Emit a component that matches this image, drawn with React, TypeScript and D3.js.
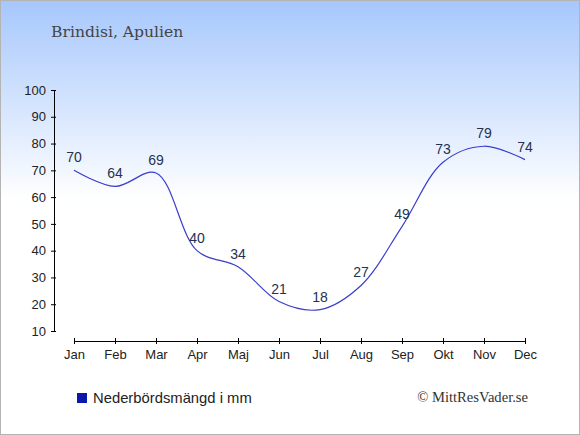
import { useEffect, useRef } from "react";
import * as d3 from "d3";

const months = ["Jan", "Feb", "Mar", "Apr", "Maj", "Jun", "Jul", "Aug", "Sep", "Okt", "Nov", "Dec"];
const rainfall = [70, 64, 69, 40, 34, 21, 18, 27, 49, 73, 79, 74];
const yTicks = [10, 20, 30, 40, 50, 60, 70, 80, 90, 100];

const W = 580;
const H = 435;

export default function App() {
  const svgRef = useRef<SVGSVGElement>(null);

  useEffect(() => {
    if (!svgRef.current) return;
    const svg = d3.select(svgRef.current);
    svg.selectAll("*").remove();

    // Background gradient
    const defs = svg.append("defs");
    const grad = defs
      .append("linearGradient")
      .attr("id", "bg")
      .attr("x1", 0)
      .attr("y1", 0)
      .attr("x2", 0)
      .attr("y2", 1);
    grad.append("stop").attr("offset", "0%").attr("stop-color", "#a6c7fc");
    grad.append("stop").attr("offset", "46%").attr("stop-color", "#ffffff");
    grad.append("stop").attr("offset", "100%").attr("stop-color", "#ffffff");

    svg
      .append("rect")
      .attr("x", 0.5)
      .attr("y", 0.5)
      .attr("width", W - 1)
      .attr("height", H - 1)
      .attr("fill", "url(#bg)")
      .attr("stroke", "#b4b4b4")
      .attr("stroke-width", 1);

    const x = d3.scalePoint<string>().domain(months).range([74, 525]);
    const y = d3.scaleLinear().domain([10, 100]).range([331, 90]);

    // Y axis
    const yAxis = svg
      .append("g")
      .attr("transform", "translate(54,0)")
      .call(d3.axisLeft(y).tickValues(yTicks).tickSize(4).tickSizeOuter(0).tickPadding(4));
    yAxis.select(".domain").attr("stroke", "#000");
    yAxis
      .selectAll(".tick text")
      .attr("font-family", "Arial, 'Liberation Sans', sans-serif")
      .attr("font-size", "13px")
      .attr("fill", "#222");
    yAxis.selectAll(".tick line").attr("x1", 2).attr("x2", -3);

    // X axis
    const xAxis = svg
      .append("g")
      .attr("transform", "translate(0,341)")
      .call(d3.axisBottom(x).tickSize(4).tickSizeOuter(0).tickPadding(5));
    xAxis.select(".domain").attr("stroke", "#000");
    xAxis.selectAll(".tick line").attr("y1", -3).attr("y2", 3);
    xAxis
      .selectAll(".tick text")
      .attr("font-family", "Arial, 'Liberation Sans', sans-serif")
      .attr("font-size", "13px")
      .attr("fill", "#222");

    // Line
    const line = d3
      .line<number>()
      .x((_, i) => x(months[i]) as number)
      .y((d) => y(d))
      .curve(d3.curveCatmullRom.alpha(0.5));

    svg
      .append("path")
      .datum(rainfall)
      .attr("d", line)
      .attr("fill", "none")
      .attr("stroke", "#3a3ecb")
      .attr("stroke-width", 1.2);

    // Value labels
    svg
      .selectAll(".val")
      .data(rainfall)
      .enter()
      .append("text")
      .attr("class", "val")
      .attr("x", (_, i) => x(months[i]) as number)
      .attr("y", (d) => y(d) - 8)
      .attr("text-anchor", "middle")
      .attr("font-family", "Arial, 'Liberation Sans', sans-serif")
      .attr("font-size", "14px")
      .attr("fill", "#25324f")
      .text((d) => d);

    // Title
    svg
      .append("text")
      .attr("x", 51)
      .attr("y", 37)
      .attr("font-family", "'DejaVu Serif', serif")
      .attr("font-size", "15.6px")
      .attr("fill", "#444")
      .text("Brindisi, Apulien");

    // Legend
    svg
      .append("rect")
      .attr("x", 77)
      .attr("y", 393)
      .attr("width", 10)
      .attr("height", 10)
      .attr("fill", "#0a17ad");
    svg
      .append("text")
      .attr("x", 93)
      .attr("y", 403)
      .attr("font-family", "Arial, 'Liberation Sans', sans-serif")
      .attr("font-size", "14.8px")
      .attr("fill", "#222")
      .text("Nederbördsmängd i mm");

    // Copyright
    svg
      .append("text")
      .attr("x", 528)
      .attr("y", 402)
      .attr("text-anchor", "end")
      .attr("font-family", "'Liberation Serif', 'Times New Roman', serif")
      .attr("font-size", "14.6px")
      .attr("fill", "#333")
      .text("© MittResVader.se");
  }, []);

  return (
    <svg
      ref={svgRef}
      width={W}
      height={H}
      style={{ position: "absolute", left: 0, top: 0 }}
    />
  );
}
